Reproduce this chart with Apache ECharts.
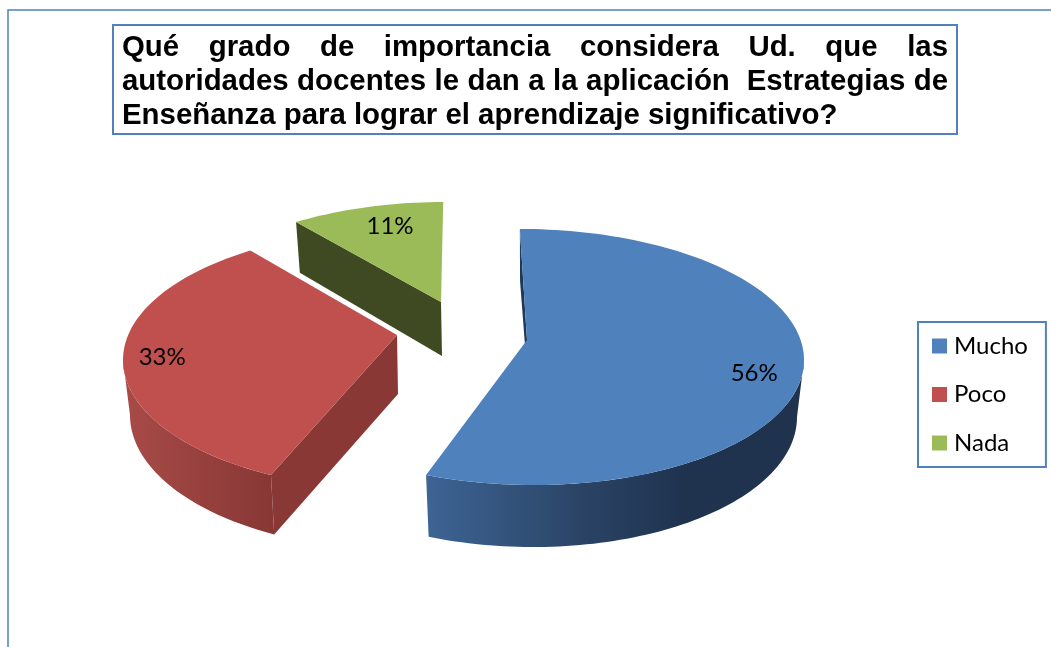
<!DOCTYPE html>
<html>
<head>
<meta charset="utf-8">
<style>html,body{margin:0;padding:0;background:#fff}#c{width:1051px;height:647px}</style>
<script src="https://cdn.jsdelivr.net/npm/echarts@6/dist/echarts.min.js"></script>
</head>
<body>
<div id="c"></div>
<script>
var categories = ['Mucho', 'Poco', 'Nada'];
var values = [56, 33, 11];
var titleLines = [
  'Qué grado de importancia considera Ud. que las',
  'autoridades docentes le dan a la aplicación  Estrategias de',
  'Enseñanza para lograr el aprendizaje significativo?'
];

var topColors = ['#4f81bd', '#c0504d', '#9bbb59'];
var wallColors = ['#1f3857', '#8a3836', '#404a22'];
var sideRamp = [
  [{o:0,c:'#3d6494'},{o:0.42,c:'#2a4365'},{o:0.68,c:'#1f334f'},{o:1,c:'#1f334f'}],
  [{o:0,c:'#a84b48'},{o:1,c:'#873735'}],
  null
];
var RX = 277, DRX = 7, DRY = 5;
var layout = [
  {cx:527, cy:357, ry:128, dcy:57, tilt:3, ax:527, ay:340, wallX:2, wallY:57, turn:-1.7, trim:-1, sideFrom:90, labelTurn:7.5, labelReach:0.83},
  {cx:400, cy:360, ry:130, dcy:55, tilt:0, ax:397, ay:335, wallX:1, wallY:59, turn:1.3, trim:-0.9, sideTo:270, labelTurn:-3.3, labelReach:0.857},
  {cx:444, cy:332, ry:130, dcy:55, tilt:0, ax:441, ay:302, wallX:1, wallY:54, turn:-0.8, trim:1.4, labelTurn:2.4, labelReach:0.79}
];

var total = values.reduce(function (a, b) { return a + b; }, 0);
function rad(d) { return d * Math.PI / 180; }
function rayToTheta(g, phi) {
  var px = (g.ax - g.cx) / RX, py = (g.cy - g.ay) / g.ry;
  var dx = Math.sin(rad(phi)), dy = Math.cos(rad(phi));
  var b = px * dx + py * dy, c = px * px + py * py - 1;
  var t = -b + Math.sqrt(b * b - c);
  var th = Math.atan2(px + t * dx, py + t * dy) * 180 / Math.PI;
  while (th < phi - 180) th += 360;
  while (th > phi + 180) th -= 360;
  return th;
}
function rimTop(g, th) {
  var s = Math.sin(rad(th)), c = Math.cos(rad(th));
  return [g.cx + RX * s, g.cy - g.ry * c + g.tilt * s];
}
function rimLow(g, th) {
  var s = Math.sin(rad(th)), c = Math.cos(rad(th));
  return [g.cx + (RX - DRX) * s, g.cy + g.dcy - (g.ry + DRY) * c + g.tilt * s];
}
function arcPts(fn, g, a, b) {
  var out = [], n = Math.max(2, Math.ceil(Math.abs(b - a) / 1.5));
  for (var i = 0; i <= n; i++) out.push(fn(g, a + (b - a) * i / n));
  return out;
}

function makeRender(idx) {
  return function (params, api) {
    var v = api.value(0);
    var before = 0;
    for (var i = 0; i < idx; i++) before += values[i];
    var g = layout[idx];
    var a0 = before / total * 360 + g.turn;
    var a1 = a0 + v / total * 360 + g.trim;
    var t0 = rayToTheta(g, a0), t1 = rayToTheta(g, a1);
    var kids = [];
    var apex = [g.ax, g.ay], apexLow = [g.ax + g.wallX, g.ay + g.wallY];

    if (idx === 0) {
      kids.push({type:'polygon', shape:{points:[rimTop(g,t0), rimLow(g,t0), apexLow, apex]},
        style:{fill:wallColors[0]}});
      var sA = arcPts(rimTop, g, g.sideFrom, t1), sB = arcPts(rimLow, g, t1, g.sideFrom);
      kids.push(sidePoly(sA.concat(sB), sideRamp[0]));
    }
    if (idx === 1) {
      var rA = arcPts(rimTop, g, t0, g.sideTo), rB = arcPts(rimLow, g, g.sideTo, t0);
      kids.push(sidePoly(rA.concat(rB), sideRamp[1]));
      kids.push({type:'polygon', shape:{points:[apex, rimTop(g,t0), rimLow(g,t0), apexLow]},
        style:{fill:wallColors[1]}});
    }
    if (idx === 2) {
      kids.push({type:'polygon', shape:{points:[apex, rimTop(g,t0), rimLow(g,t0), apexLow]},
        style:{fill:wallColors[2]}});
    }
    kids.push({type:'polygon', shape:{points:[apex].concat(arcPts(rimTop, g, t0, t1))},
      style:{fill:topColors[idx]}});

    var lphi = (a0 + a1) / 2 + g.labelTurn;
    var lth = rayToTheta(g, lphi);
    var rim = rimTop(g, lth);
    kids.push({type:'text', style:{
      text: v + '%',
      x: g.ax + (rim[0] - g.ax) * g.labelReach,
      y: g.ay + (rim[1] - g.ay) * g.labelReach,
      fill:'#000', font:'24px Lato', align:'center', verticalAlign:'middle'
    }});
    return {type:'group', children:kids};
  };
}
function sidePoly(points, ramp) {
  return {type:'polygon', shape:{points:points}, style:{
    fill:{type:'linear', x:0, y:0, x2:1, y2:0, global:false,
      colorStops: ramp.map(function (s) { return {offset:s.o, color:s.c}; })}
  }};
}

// Title words laid out with the same justification as the picture
var TITLE_FONT = 'bold 29.4px "Liberation Sans"';
var measure = document.createElement('canvas').getContext('2d');
measure.font = TITLE_FONT;
function titleWords() {
  var left = 122, right = 948, base = [48, 82, 116], out = [];
  titleLines.forEach(function (line, li) {
    var parts = line.split(/( +)/);
    var words = parts.filter(function (_, i) { return i % 2 === 0; });
    var widths = words.map(function (w) { return measure.measureText(w).width; });
    var sum = widths.reduce(function (a, b) { return a + b; }, 0);
    var weights = parts.filter(function (_, i) { return i % 2 === 1; }).map(function (s) { return s.length; });
    var wSum = weights.reduce(function (a, b) { return a + b; }, 0);
    var unit = li === 2 ? measure.measureText(' ').width : (right - left - sum) / wSum;
    var x = left;
    words.forEach(function (w, i) {
      out.push({type:'text', style:{text:w, x:x, y:base[li], font:TITLE_FONT, fill:'#000', verticalAlign:'middle'}});
      x += widths[i] + (weights[i] || 0) * unit;
    });
  });
  return out;
}

var frameColor = '#4f81bd';
var chart = echarts.init(document.getElementById('c'), null, {renderer:'canvas'});
chart.setOption({
  animation:false,
  backgroundColor:'#fff',
  graphic:{elements:[
    {type:'polyline', shape:{points:[[8,647],[8,10],[1051,10]]}, style:{stroke:frameColor, lineWidth:1.5, fill:null}},
    {type:'rect', shape:{x:113,y:25,width:844,height:109}, style:{stroke:frameColor, lineWidth:2, fill:'#fff'}}
  ].concat(titleWords())},
  legend:{
    orient:'vertical', left:918, top:322,
    data:categories, icon:'rect', itemWidth:15, itemHeight:15, itemGap:24.5,
    padding:[12,18,12,14], borderColor:frameColor, borderWidth:2, backgroundColor:'#fff',
    selectedMode:false,
    textStyle:{fontFamily:'Lato', fontSize:24, color:'#000', padding:[0,0,0,2]}
  },
  series:categories.map(function (name, i) {
    return {
      type:'custom', name:name, coordinateSystem:'none',
      itemStyle:{color:topColors[i]},
      renderItem:makeRender(i),
      data:[[values[i]]],
      silent:true
    };
  })
});
</script>
</body>
</html>
